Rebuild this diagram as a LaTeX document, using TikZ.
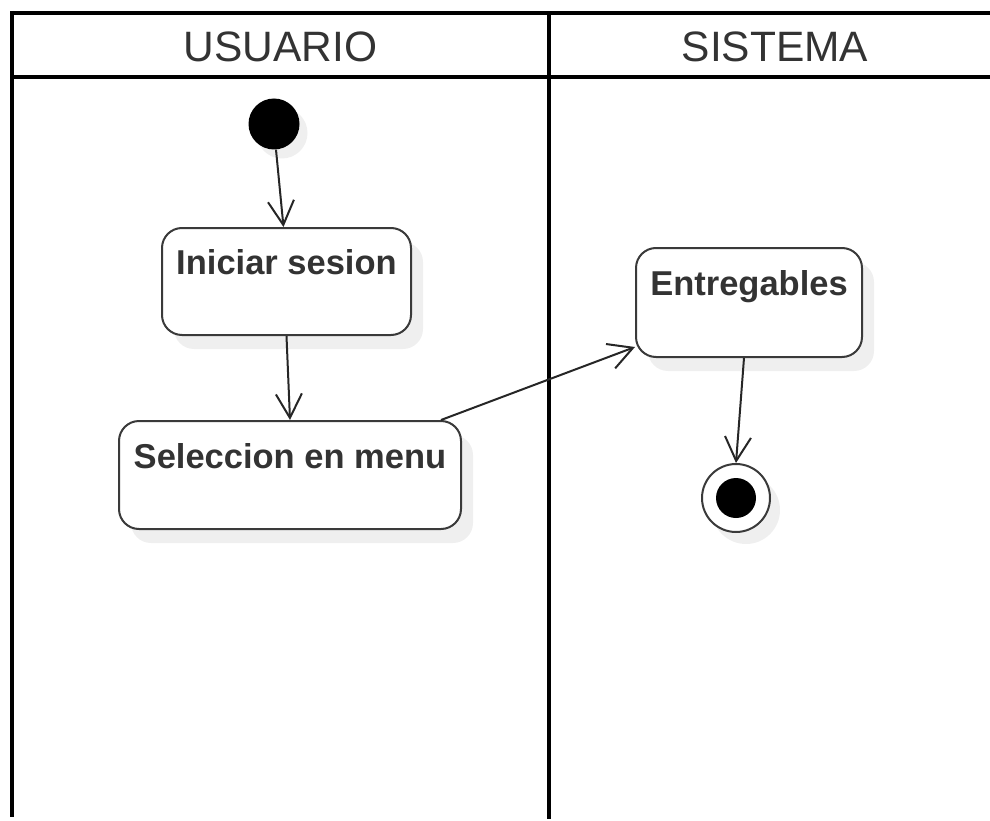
\documentclass[tikz,border=0pt]{standalone}
\usepackage{fontspec}
\setmainfont{Liberation Sans}
\usetikzlibrary{arrows.meta,shadows}
\definecolor{txt}{HTML}{333333}
\definecolor{edge}{HTML}{3A3A3A}
\definecolor{shad}{HTML}{EFEFEF}
\begin{document}
\begin{tikzpicture}[x=1pt,y=-1pt,
  lane/.style={line width=4pt,black},
  act/.style={draw=edge,line width=2pt,rounded corners=20pt,fill=white,inner sep=0pt,
    drop shadow={shadow xshift=12pt,shadow yshift=-14pt,fill=shad,opacity=1}},
  lbl/.style={anchor=base,text=txt,font=\fontsize{34.5}{40}\selectfont\bfseries,inner sep=0pt},
  hdr/.style={anchor=base,text=txt,font=\fontsize{42.5}{48}\selectfont,inner sep=0pt},
  flow/.style={draw=black!85,line width=2pt,-{Straight Barb[length=24pt,width=26pt,line width=2pt]}}
]
\useasboundingbox (0,0) rectangle (990,821);
% swimlanes
\draw[lane] (10,13) -- (992,13);
\draw[lane] (10,77) -- (992,77);
\draw[lane] (12,11) -- (12,817);
\draw[lane] (549,13) -- (549,819);
\node[hdr] (husu) at (280.5,62) {USUARIO};
\node[hdr] (hsis) at (775,62) {SISTEMA};
% start
\node[circle,fill=black,minimum size=51pt,inner sep=0pt,
  drop shadow={shadow xshift=8pt,shadow yshift=-9pt,fill=shad,opacity=1}] (start) at (274,124) {};
% activities
\node[act,minimum width=249pt,minimum height=107pt] (ini) at (286.5,281.5) {};
\node[lbl] (tini) at (286.5,274) {Iniciar sesion};
\node[act,minimum width=342pt,minimum height=108pt] (sel) at (290,475) {};
\node[lbl] (tsel) at (290,468) {Seleccion en menu};
\node[act,minimum width=226pt,minimum height=109pt] (ent) at (749,302.5) {};
\node[lbl] (tent) at (749,295) {Entregables};
% end
\node[circle,draw=edge,line width=2pt,fill=white,minimum size=68pt,inner sep=0pt,
  drop shadow={shadow xshift=10pt,shadow yshift=-12pt,fill=shad,opacity=1}] (endo) at (736,498) {};
\node[circle,fill=black,minimum size=40pt,inner sep=0pt] (endi) at (736,498) {};
% flows
\draw[flow] ([xshift=2pt]start.south) -- ([xshift=-3pt]ini.north);
\draw[flow] (ini.south) -- (sel.north);
\draw[flow] ([xshift=-21pt]sel.north east) -- ([yshift=11pt]ent.south west);
\draw[flow] ([xshift=-5pt]ent.south) -- (endo.north);
\end{tikzpicture}
\end{document}
